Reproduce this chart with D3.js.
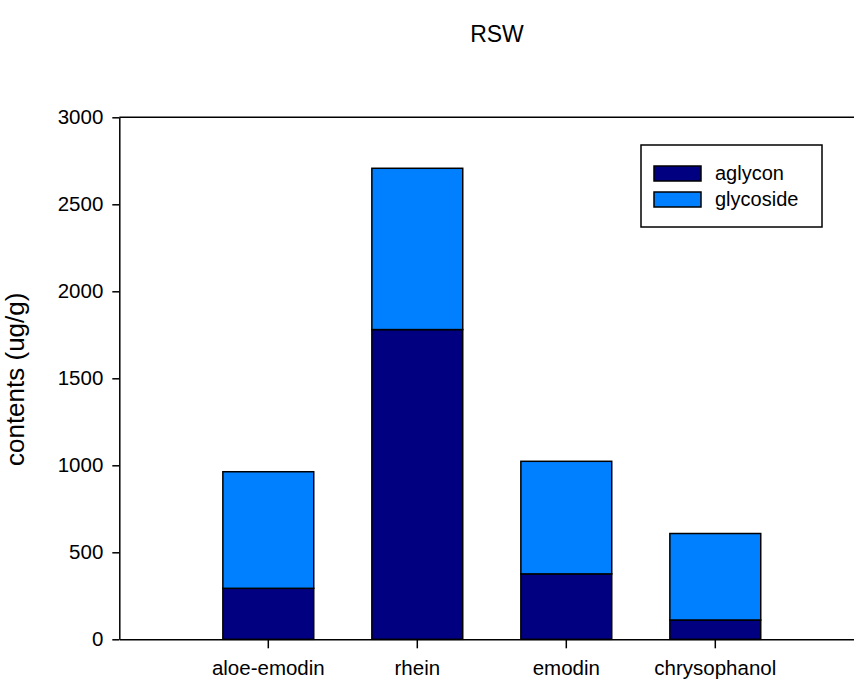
<!DOCTYPE html>
<html>
<head>
<meta charset="utf-8">
<script src="https://cdn.jsdelivr.net/npm/d3@7"></script>
<style>
  body { margin: 0; background: #fff; }
  svg { display: block; font-family: "Liberation Sans", Arial, sans-serif; }
</style>
</head>
<body>
<div id="canvas"></div>
<script>
// data
var categories = ['aloe-emodin', 'rhein', 'emodin', 'chrysophanol'];
var aglycon = [293, 1780, 376, 111];
var glycoside = [670, 927, 647, 497];
var seriesNames = ['aglycon', 'glycoside'];
var seriesColors = ['#000080', '#0080ff'];
var yTicks = [0, 500, 1000, 1500, 2000, 2500, 3000];

var W = 854, H = 682;
var m = {t: 117.3, l: 119.3, b: 639.3};

var svg = d3.select('#canvas')
  .append('svg')
  .attr('width', W)
  .attr('height', H);

var scaleY = d3.scaleLinear()
  .domain([0, 3000])
  .range([m.b, m.t]);

// band positions: centres every ~149px starting at ~268
var scaleX = d3.scaleBand()
  .domain(categories)
  .range([m.l, m.l + 745])
  .paddingInner(0.39)
  .paddingOuter(0.695);

// stack the two series
var rows = categories.map(function(c, i){
  return {cat: c, aglycon: aglycon[i], glycoside: glycoside[i]};
});
var stacked = d3.stack().keys(seriesNames)(rows);

svg.append('g').selectAll('g')
  .data(stacked)
  .enter()
  .append('g')
  .attr('fill', function(d, i){ return seriesColors[i]; })
  .selectAll('rect')
  .data(function(d){ return d; })
  .enter()
  .append('rect')
  .attr('x', function(d){ return scaleX(d.data.cat); })
  .attr('width', scaleX.bandwidth())
  .attr('y', function(d){ return scaleY(d[1]); })
  .attr('height', function(d){ return scaleY(d[0]) - scaleY(d[1]); })
  .attr('stroke', '#000')
  .attr('stroke-width', 1.5);

// top frame line
svg.append('line')
  .attr('x1', m.l).attr('x2', W)
  .attr('y1', scaleY(3000)).attr('y2', scaleY(3000))
  .attr('stroke', '#000')
  .attr('stroke-width', 1.5);

// axes
var axisY = d3.axisLeft(scaleY)
  .tickValues(yTicks)
  .tickFormat(d3.format('d'))
  .tickSize(7)
  .tickSizeOuter(0)
  .tickPadding(9);
svg.append('g').attr('class', 'yAxis')
  .attr('transform', 'translate(' + m.l + ',0)')
  .call(axisY);

var axisX = d3.axisBottom(scaleX)
  .tickSize(9)
  .tickSizeOuter(0)
  .tickPadding(12);
svg.append('g').attr('class', 'xAxis')
  .attr('transform', 'translate(0,' + m.b + ')')
  .call(axisX);

svg.selectAll('.domain, .tick line')
  .attr('stroke', '#000')
  .attr('stroke-width', 1.5);
svg.selectAll('.tick text')
  .attr('fill', '#000')
  .style('font-size', '20.5px')
  .style('font-family', '"Liberation Sans", Arial, sans-serif');

// title
svg.append('text')
  .attr('x', 497).attr('y', 42)
  .attr('text-anchor', 'middle')
  .style('font-size', '23px')
  .text('RSW');

// y label
svg.append('text')
  .attr('transform', 'translate(24,' + ((m.t + m.b) / 2 + 1) + ') rotate(-90)')
  .attr('text-anchor', 'middle')
  .style('font-size', '26px')
  .text('contents (ug/g)');

// legend
var lg = svg.append('g').attr('transform', 'translate(641,145)');
lg.append('rect')
  .attr('width', 181).attr('height', 82)
  .attr('fill', '#fff')
  .attr('stroke', '#000')
  .attr('stroke-width', 1.5);
var item = lg.selectAll('.item')
  .data(seriesNames)
  .enter()
  .append('g')
  .attr('class', 'item')
  .attr('transform', function(d, i){ return 'translate(13,' + (21 + i * 26) + ')'; });
item.append('rect')
  .attr('width', 47).attr('height', 15)
  .attr('fill', function(d, i){ return seriesColors[i]; })
  .attr('stroke', '#000')
  .attr('stroke-width', 1.5);
item.append('text')
  .attr('x', 61).attr('y', 14)
  .style('font-size', '20px')
  .text(function(d){ return d; });
</script>
</body>
</html>
